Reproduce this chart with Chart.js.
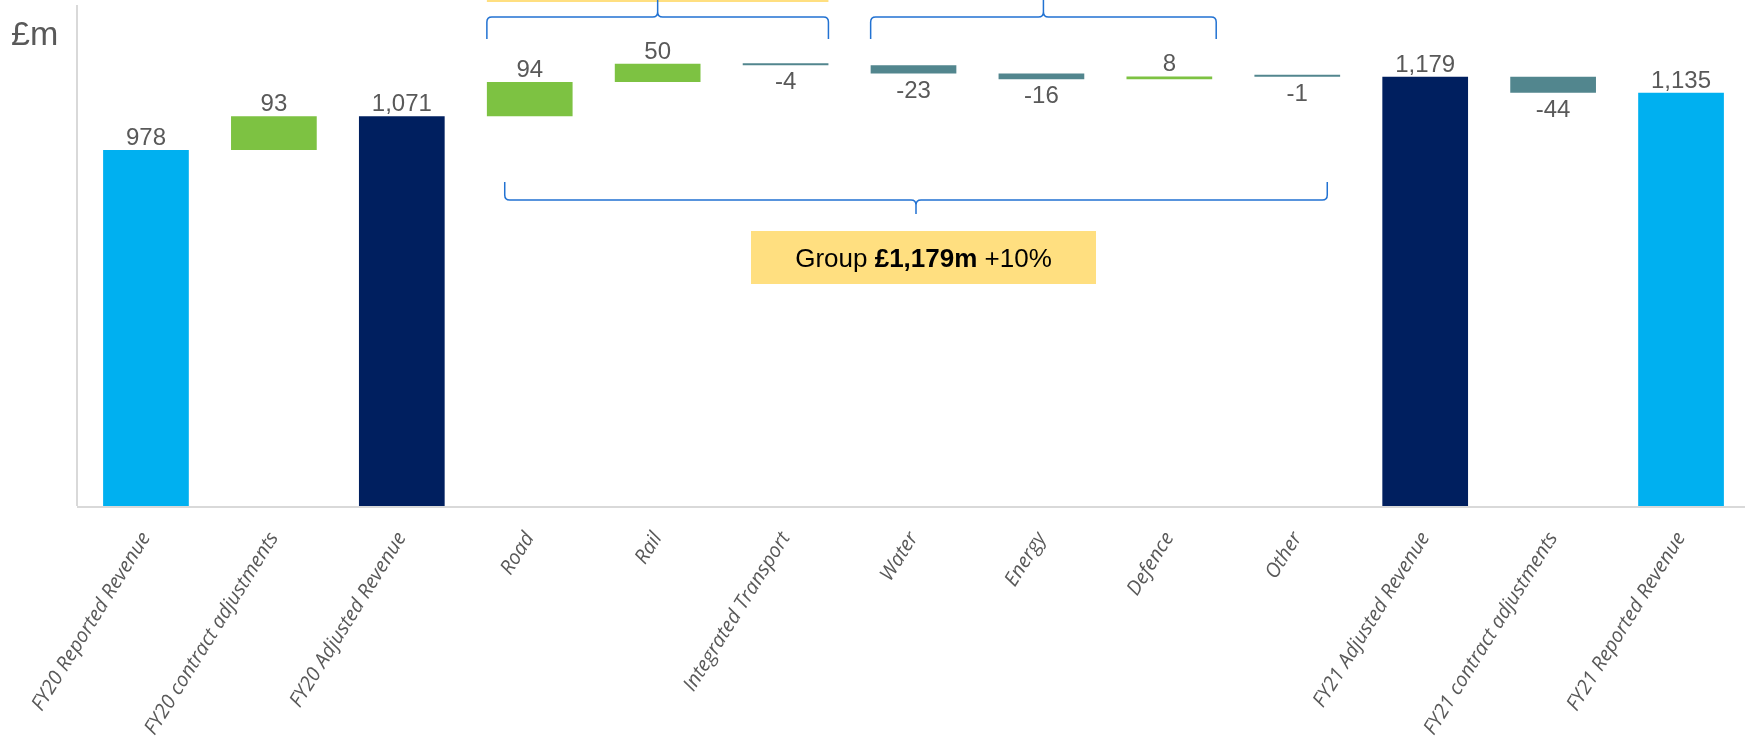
<!DOCTYPE html>
<html>
<head>
<meta charset="utf-8">
<script src="https://cdn.jsdelivr.net/npm/chart.js@4.4.1/dist/chart.umd.min.js"></script>
<style>
  html, body { margin: 0; padding: 0; background: #fff; }
</style>
</head>
<body>
<canvas id="revenueBridge" width="1745" height="736"></canvas>
<script>
const categories = [
  'FY20 Reported Revenue', 'FY20 contract adjustments', 'FY20 Adjusted Revenue',
  'Road', 'Rail', 'Integrated Transport', 'Water', 'Energy', 'Defence', 'Other',
  'FY21 Adjusted Revenue', 'FY21 contract adjustments', 'FY21 Reported Revenue'
];
const values = [978, 93, 1071, 94, 50, -4, -23, -16, 8, -1, 1179, -44, 1135];
const barKinds = ['reported', 'delta', 'adjusted', 'delta', 'delta', 'delta', 'delta',
  'delta', 'delta', 'delta', 'adjusted', 'delta', 'reported'];
const unitLabel = '£m';
const groupTotal = '£1,179m';
const groupGrowth = '+10%';

const colors = {
  reported: '#00B0F0',
  adjusted: '#001F5F',
  up: '#7DC242',
  down: '#52868E',
  text: '#595959',
  axis: '#D9D9D9',
  brace: '#2272D2',
  note: '#FFDF80'
};

// floating bars for the waterfall
let running = 0;
const floating = values.map((v, i) => {
  if (barKinds[i] !== 'delta') {
    running = v;
    return [0, v];
  }
  const from = running;
  running += v;
  return [from, running];
});
const barColors = values.map((v, i) => {
  if (barKinds[i] === 'reported') return colors.reported;
  if (barKinds[i] === 'adjusted') return colors.adjusted;
  return v >= 0 ? colors.up : colors.down;
});

function fmt(n) {
  return n.toLocaleString('en-GB');
}

const valueLabels = {
  id: 'valueLabels',
  afterDatasetsDraw(chart) {
    const ctx = chart.ctx;
    const bars = chart.getDatasetMeta(0).data;
    ctx.save();
    ctx.font = '24px "Liberation Sans", Arial, sans-serif';
    ctx.fillStyle = colors.text;
    ctx.textAlign = 'center';
    ctx.textBaseline = 'alphabetic';
    bars.forEach((bar, i) => {
      const top = Math.min(bar.y, bar.base);
      const bottom = Math.max(bar.y, bar.base);
      if (values[i] >= 0) {
        ctx.fillText(fmt(values[i]), bar.x, top - 5);
      } else {
        ctx.fillText(fmt(values[i]), bar.x, bottom + 24);
      }
    });
    ctx.restore();
  }
};

function brace(ctx, x1, x2, yLeg, yBar, yTip) {
  const xc = (x1 + x2) / 2;
  const d = yBar < yLeg ? -1 : 1; // direction from legs to bar
  const r = 5;
  ctx.beginPath();
  ctx.moveTo(x1, yLeg);
  ctx.lineTo(x1, yBar - d * r);
  ctx.quadraticCurveTo(x1, yBar, x1 + r, yBar);
  ctx.lineTo(xc - r, yBar);
  ctx.quadraticCurveTo(xc, yBar, xc, yBar + d * r);
  ctx.lineTo(xc, yTip);
  ctx.moveTo(xc, yBar + d * r);
  ctx.quadraticCurveTo(xc, yBar, xc + r, yBar);
  ctx.lineTo(x2 - r, yBar);
  ctx.quadraticCurveTo(x2, yBar, x2, yBar - d * r);
  ctx.lineTo(x2, yLeg);
  ctx.stroke();
}

const extras = {
  id: 'extras',
  beforeDatasetsDraw(chart) {
    const ctx = chart.ctx;
    const area = chart.chartArea;
    ctx.save();
    ctx.strokeStyle = colors.axis;
    ctx.lineWidth = 2;
    ctx.beginPath();
    ctx.moveTo(area.left - 5, 5);
    ctx.lineTo(area.left - 5, area.bottom);
    ctx.moveTo(area.left - 5, area.bottom + 1);
    ctx.lineTo(area.right, area.bottom + 1);
    ctx.stroke();
    ctx.restore();
  },
  afterDatasetsDraw(chart) {
    const ctx = chart.ctx;
    const x = chart.scales.x;
    const half = chart.getDatasetMeta(0).data[0].width / 2;
    ctx.save();
    ctx.fillStyle = colors.text;
    ctx.font = '34px "Liberation Sans", Arial, sans-serif';
    ctx.textAlign = 'left';
    ctx.fillText(unitLabel, 11, 45);

    // yellow strip cut at the top
    ctx.fillStyle = colors.note;
    ctx.fillRect(x.getPixelForValue(3) - half, 0, x.getPixelForValue(5) - x.getPixelForValue(3) + 2 * half, 2);

    ctx.strokeStyle = colors.brace;
    ctx.lineWidth = 1.5;
    brace(ctx, x.getPixelForValue(3) - half, x.getPixelForValue(5) + half, 39, 17, -2);
    brace(ctx, x.getPixelForValue(6) - half, x.getPixelForValue(8) + half + 4, 39, 17, -2);
    brace(ctx, x.getPixelForValue(3) - 25, x.getPixelForValue(9) + 30, 182, 200, 214);

    // group note box
    const bx1 = 751, bx2 = 1096;
    ctx.fillStyle = colors.note;
    ctx.fillRect(bx1, 231, bx2 - bx1, 53);
    const regular = '26px "Liberation Sans", Arial, sans-serif';
    const bold = 'bold 26px "Liberation Sans", Arial, sans-serif';
    const parts = [['Group ', regular], [groupTotal, bold], [' ' + groupGrowth, regular]];
    let total = 0;
    parts.forEach(p => { ctx.font = p[1]; total += ctx.measureText(p[0]).width; });
    let tx = (bx1 + bx2) / 2 - total / 2;
    ctx.fillStyle = '#000';
    parts.forEach(p => {
      ctx.font = p[1];
      ctx.fillText(p[0], tx, 267);
      tx += ctx.measureText(p[0]).width;
    });
    ctx.restore();
  }
};

const revenueChart = new Chart(document.getElementById('revenueBridge'), {
  type: 'bar',
  data: {
    labels: categories,
    datasets: [{
      data: floating,
      backgroundColor: barColors,
      borderWidth: 0,
      categoryPercentage: 1,
      barPercentage: 0.67,
      minBarLength: 2
    }]
  },
  options: {
    responsive: false,
    animation: false,
    layout: { padding: { left: 82, right: 0, top: 0, bottom: 0 } },
    plugins: {
      legend: { display: false },
      tooltip: { enabled: false }
    },
    scales: {
      y: {
        display: false,
        min: 0,
        max: 1390
      },
      x: {
        afterFit(scale) { scale.height = 230; },
        grid: { display: false, drawTicks: false },
        border: { display: false },
        ticks: {
          color: colors.text,
          minRotation: 58,
          maxRotation: 58,
          autoSkip: false,
          padding: 22,
          font: { family: '"Open Sans", sans-serif', style: 'italic', size: 20 }
        }
      }
    }
  },
  plugins: [extras, valueLabels]
});
</script>
</body>
</html>
